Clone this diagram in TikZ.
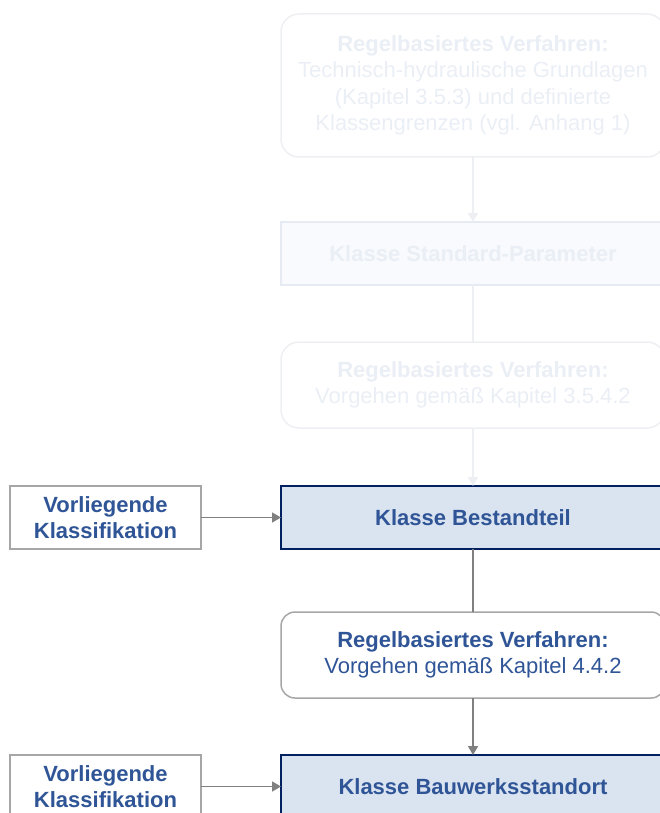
\documentclass[tikz,border=0pt]{standalone}
\usepackage{fontspec}
\setmainfont{Liberation Sans}
\usetikzlibrary{arrows.meta,positioning}
\definecolor{txtblue}{RGB}{47,85,151}
\definecolor{navy}{RGB}{0,32,96}
\definecolor{paleblue}{RGB}{218,227,240}
\definecolor{boxgray}{RGB}{166,166,166}
\definecolor{arrgray}{RGB}{128,128,128}
\definecolor{fadetext}{RGB}{234,238,245}
\definecolor{fadeline}{RGB}{238,239,242}
\definecolor{fadefill}{RGB}{248,250,253}
\definecolor{fadeedge}{RGB}{230,234,242}
\tikzset{
  basebox/.style={minimum width=384pt, inner sep=0pt, outer sep=0pt, align=center,
    font=\fontsize{22}{26.5}\selectfont},
  fadeproc/.style={basebox, draw=fadeline, line width=1.5pt, rounded corners=18pt, text=fadetext},
  fadeclass/.style={basebox, draw=fadeedge, line width=1.5pt, fill=fadefill, text=fadetext, minimum height=63pt},
  proc/.style={basebox, draw=boxgray, line width=1.5pt, rounded corners=14pt, text=txtblue, minimum height=86pt},
  classbox/.style={basebox, draw=navy, line width=2pt, fill=paleblue, text=txtblue, minimum height=63pt},
  inbox/.style={basebox, minimum width=191pt, minimum height=63pt, draw=boxgray, line width=1.5pt, text=txtblue},
  arr/.style={draw=arrgray, line width=1.6pt, -{Triangle[width=10pt,length=9pt]}},
  fadearr/.style={draw=fadeline, line width=1.5pt, -{Triangle[width=10pt,length=9pt]}}
}
\begin{document}
\begin{tikzpicture}[x=1pt,y=-1pt]
  \useasboundingbox (0,0) rectangle (659,813);
  \node[fadeproc, minimum height=143pt] (tech) at (473,85.5)
    {\textbf{Regelbasiertes Verfahren:}\\Technisch-hydraulische Grundlagen\\(Kapitel 3.5.3) und definierte\\Klassengrenzen (vgl. Anhang 1)};
  \node[fadeclass, below=65pt of tech] (std) {\textbf{Klasse Standard-Parameter}};
  \node[fadeproc, minimum height=86pt, below=57pt of std] (rule1)
    {\textbf{Regelbasiertes Verfahren:}\\Vorgehen gemäß Kapitel 3.5.4.2};
  \node[classbox, below=58pt of rule1] (best) {\textbf{Klasse Bestandteil}};
  \node[proc, below=63pt of best] (rule2)
    {\textbf{Regelbasiertes Verfahren:}\\Vorgehen gemäß Kapitel 4.4.2};
  \node[classbox, below=57pt of rule2] (bau) {\textbf{Klasse Bauwerksstandort}};
  \node[inbox, left=80pt of best] (in1) {\textbf{Vorliegende}\\\textbf{Klassifikation}};
  \node[inbox, left=80pt of bau] (in2) {\textbf{Vorliegende}\\\textbf{Klassifikation}};

  \draw[fadearr] (tech) -- (std);
  \draw[draw=fadeline, line width=1.5pt] (std) -- (rule1);
  \draw[fadearr] (rule1) -- (best);
  \draw[draw=arrgray, line width=1.6pt] (best) -- (rule2);
  \draw[arr] (rule2) -- (bau);
  \draw[arr] (in1) -- (best);
  \draw[arr] (in2) -- (bau);
\end{tikzpicture}
\end{document}
